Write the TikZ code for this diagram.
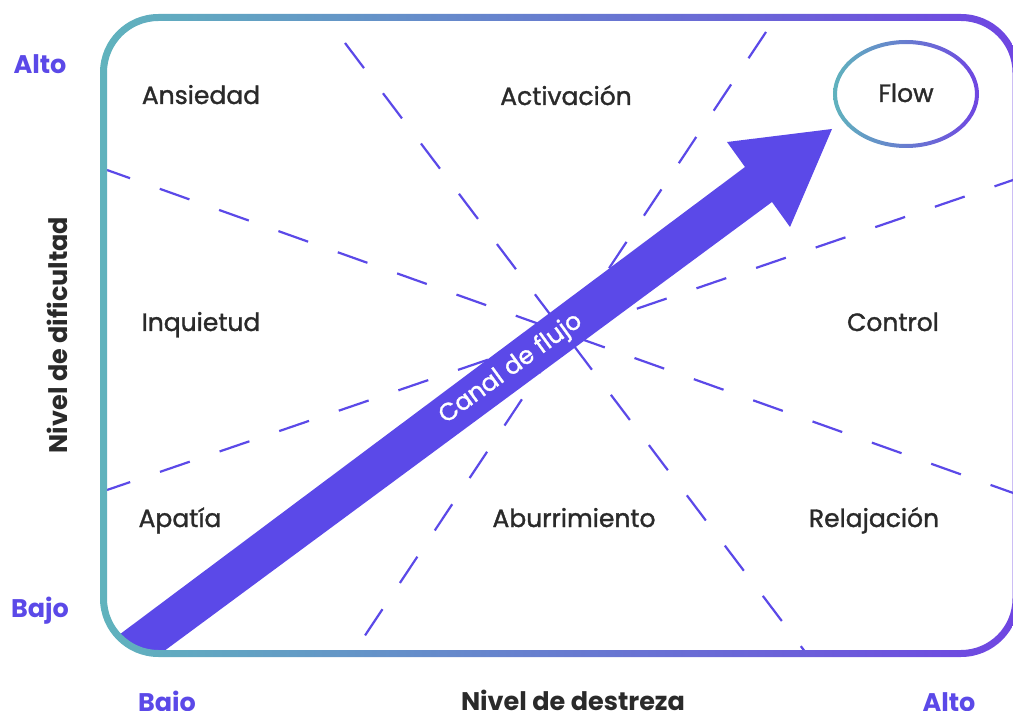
\documentclass[tikz,border=0pt]{standalone}
\usepackage{fontspec}
\setmainfont{Poppins}
\newfontfamily\medfont{Poppins}[FakeBold=1.3]
\definecolor{tealc}{HTML}{60B3BD}
\definecolor{purc}{HTML}{6F45E2}
\definecolor{arrc}{HTML}{5B49E8}
\definecolor{txt}{HTML}{2A2A2A}
\begin{document}
\begin{tikzpicture}[x=1pt,y=-1pt,
  lab/.style={font=\medfont\fontsize{25}{30}\selectfont, text=txt, inner sep=0, anchor=base},
  axv/.style={font=\fontsize{25.5}{30}\selectfont\bfseries, text=arrc, inner sep=0, anchor=base},
  axt/.style={font=\fontsize{25.5}{30}\selectfont\bfseries, text=txt, inner sep=0, anchor=base},
  dline/.style={draw=arrc, line width=2.2pt, dash pattern=on 31.5pt off 31.5pt},
]
\useasboundingbox (0,0) rectangle (1013,711);
% dashed lines and arrow, clipped to the frame
\begin{scope}
  \clip[rounded corners=55pt] (103.5,17.5) rectangle (1016,653.5);
  \coordinate (d1a) at (345,43);  \coordinate (d1b) at (806,653);
  \coordinate (d2a) at (766,32);  \coordinate (d2b) at (362,640);
  \coordinate (d3a) at (107,170); \coordinate (d3b) at (1016,494);
  \coordinate (d4a) at (107,490); \coordinate (d4b) at (1016,179);
  \draw[dline] (d1a) -- (d1b);
  \draw[dline] (d2a) -- (d2b);
  \draw[dline, dash phase=7pt] (d3a) -- (d3b);
  \draw[dline, dash phase=7pt] (d4a) -- (d4b);
  \fill[arrc] (60,679) -- (745,167) -- (727,142) -- (832,129) -- (790,227) -- (772,202) -- (110,691) -- cycle;
\end{scope}
\node[font=\medfont\fontsize{24.5}{30}\selectfont, text=white, rotate=36, inner sep=0] (canal) at (511,369) {Canal de flujo};
% frame with gradient
\shade[left color=tealc, right color=purc, even odd rule, rounded corners=58.5pt]
  (100,14) rectangle (1019.5,657) [rounded corners=51.5pt] (107,21) rectangle (1012.5,650);
% flow ellipse
\shade[left color=tealc, right color=purc, even odd rule]
  (906,94) ellipse [x radius=73pt, y radius=54pt] (906,94) ellipse [x radius=69pt, y radius=50pt];
\node[lab] (flow) at (906,102) {Flow};
% region labels
\node[lab] (ans) at (201,104) {Ansiedad};
\node[lab] (act) at (566,105) {Activación};
\node[lab] (inq) at (201,331) {Inquietud};
\node[lab] (con) at (893,331) {Control};
\node[lab] (apa) at (180,527) {Apatía};
\node[lab] (abu) at (574,527) {Aburrimiento};
\node[lab] (rel) at (874,527) {Relajación};
% axes labels
\node[axv] (altoy) at (40,74) {Alto};
\node[axv] (bajoy) at (40,617) {Bajo};
\node[axv] (bajox) at (167,711) {Bajo};
\node[axv] (altox) at (949,711) {Alto};
\node[axt] (destreza) at (573,710) {Nivel de destreza};
\node[axt, rotate=90] (dificultad) at (67,335) {Nivel de dificultad};
\end{tikzpicture}
\end{document}
